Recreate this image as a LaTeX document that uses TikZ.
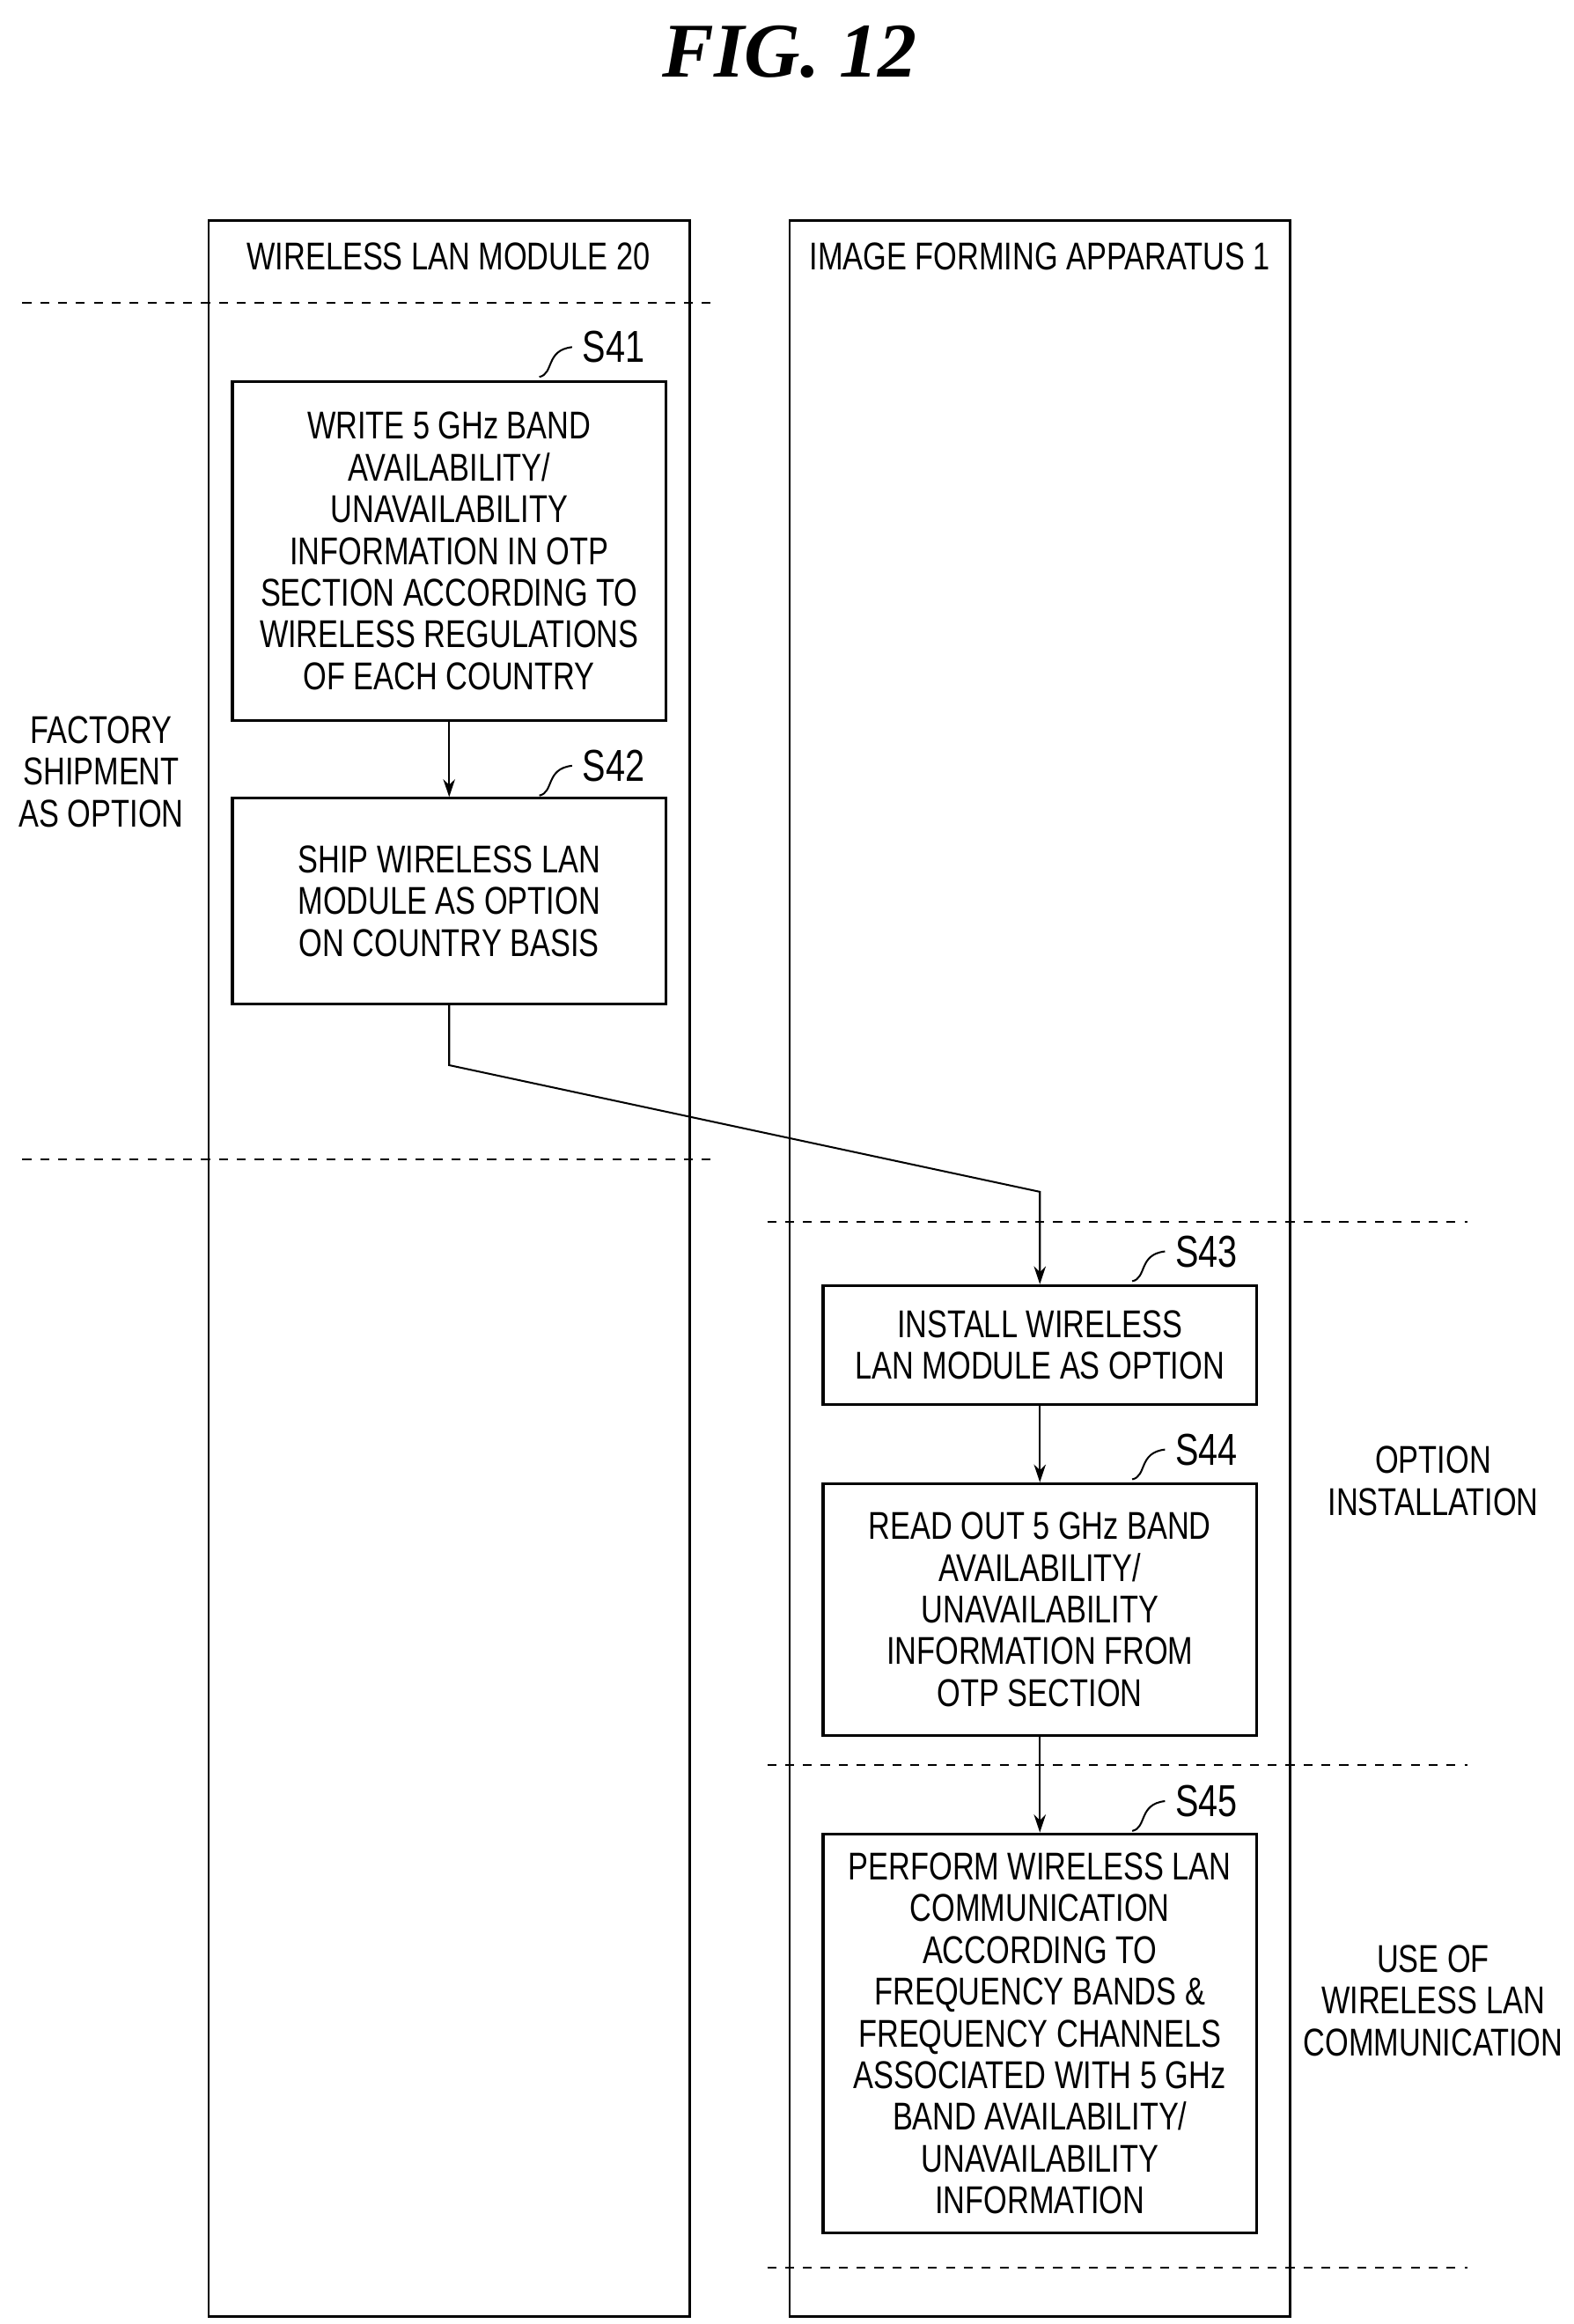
\documentclass[tikz,border=0pt]{standalone}
\usetikzlibrary{arrows.meta}
\usepackage{fontspec}
\setmainfont{Liberation Sans}[FakeStretch=0.78]
\newfontfamily\titlefont{Liberation Serif}
\begin{document}
\begin{tikzpicture}[x=0.5pt,y=-0.5pt,
  lane/.style={draw,line width=0.8pt},
  stepbox/.style={draw,line width=0.9pt,minimum width=145.5pt,inner sep=2pt,align=center,font=\fontsize{13}{14}\selectfont,anchor=north},
  sep/.style={dashed,line width=0.6pt,dash pattern=on 3pt off 3pt},
  arr/.style={-{Stealth[length=6pt,width=4pt]},line width=0.6pt},
  lbl/.style={font=\fontsize{15}{15}\selectfont,anchor=west},
  side/.style={align=center,font=\fontsize{13}{14}\selectfont}]
\useasboundingbox (0,0) rectangle (1056,1560);
\node[font=\titlefont\bfseries\itshape\fontsize{26}{26}\selectfont] (title) at (530,35) {FIG. 12};
\draw[lane] (140,148) rectangle (463,1555);
\draw[lane] (530,148) rectangle (866,1555);
\node[font=\fontsize{13}{14}\selectfont] (h1) at (301,172) {WIRELESS LAN MODULE 20};
\node[font=\fontsize{13}{14}\selectfont] (h2) at (698,172) {IMAGE FORMING APPARATUS 1};
\draw[sep] (15,203) -- (478,203);
\draw[sep] (15,778) -- (478,778);
\draw[sep] (515,820) -- (985,820);
\draw[sep] (515,1185) -- (985,1185);
\draw[sep] (515,1522) -- (985,1522);
\node[stepbox,minimum height=114pt] (s41) at (301.5,255) {WRITE 5 GHz BAND\\AVAILABILITY/\\UNAVAILABILITY\\INFORMATION IN OTP\\SECTION ACCORDING TO\\WIRELESS REGULATIONS\\OF EACH COUNTRY};
\node[stepbox,minimum height=69pt] (s42) at (301.5,535) {SHIP WIRELESS LAN\\MODULE AS OPTION\\ON COUNTRY BASIS};
\node[stepbox,minimum height=40pt] (s43) at (698,862) {INSTALL WIRELESS\\LAN MODULE AS OPTION};
\node[stepbox,minimum height=84.5pt] (s44) at (698,995) {READ OUT 5 GHz BAND\\AVAILABILITY/\\UNAVAILABILITY\\INFORMATION FROM\\OTP SECTION};
\node[stepbox,minimum height=134pt] (s45) at (698,1230) {PERFORM WIRELESS LAN\\COMMUNICATION\\ACCORDING TO\\FREQUENCY BANDS \&\\FREQUENCY CHANNELS\\ASSOCIATED WITH 5 GHz\\BAND AVAILABILITY/\\UNAVAILABILITY\\INFORMATION};
\foreach \n/\x/\y/\t in {s41/384/233/S41,s42/384/514/S42,s43/782/840/S43,s44/782/973/S44,s45/782/1209/S45}{
  \node[lbl] (l\n) at (\x,\y) {\t};
  \draw[line width=0.6pt] (\x-22,\y+20) .. controls (\x-12,\y+18) and (\x-18,\y+2) .. (\x,\y);
}
\draw[arr] (s41) -- (s42);
\coordinate (c1) at (301.5,715);
\coordinate (c2) at (698,800);
\draw[arr] (s42.south) -- (c1) -- (c2) -- (s43.north);
\draw[arr] (s43) -- (s44);
\draw[arr] (s44) -- (s45);
\node[side] (f) at (68,518) {FACTORY\\SHIPMENT\\AS OPTION};
\node[side] (o) at (962,994) {OPTION\\INSTALLATION};
\node[side] (u) at (962,1343) {USE OF\\WIRELESS LAN\\COMMUNICATION};
\end{tikzpicture}
\end{document}
